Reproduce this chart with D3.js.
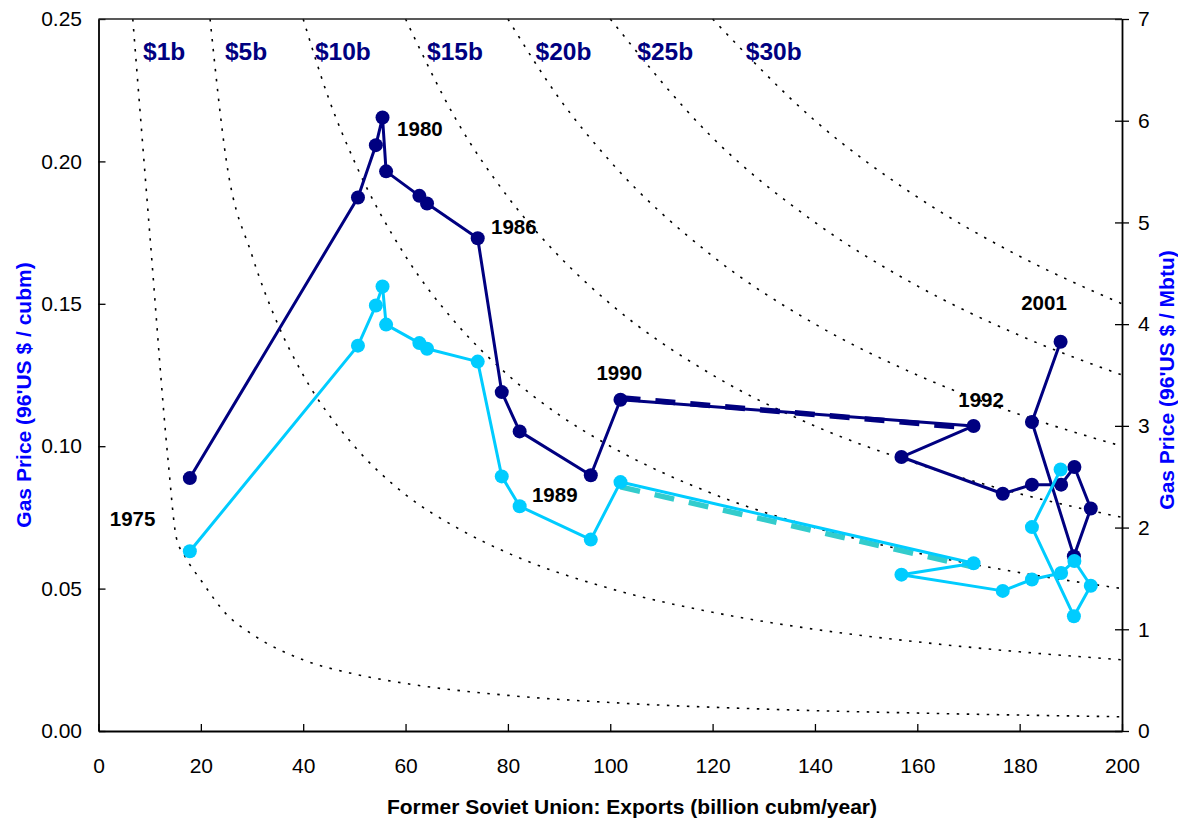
<!DOCTYPE html>
<html>
<head>
<meta charset="utf-8">
<script src="https://cdn.jsdelivr.net/npm/d3@7"></script>
<style>
  body { margin: 0; background: #fff; }
  text { font-family: "Liberation Sans", Arial, sans-serif; }
</style>
</head>
<body>
<svg id="chart" width="1178" height="821"></svg>
<script>
// ---------------- DATA ----------------
// Former Soviet Union exports (billion cubm / year), shared by both price series
const exportsBcm = [17.85, 50.7, 54.2, 55.5, 56.2, 62.7, 64.2, 74.1, 78.8, 82.3, 96.2, 102.0,
                    171.0, 156.9, 176.7, 182.4, 188.1, 190.7, 193.9, 190.6, 182.4, 188.0];
// Navy series gas price (96'US $ / cubm)
const priceNavy = [0.0888, 0.1873, 0.2057, 0.2154, 0.1965, 0.1879, 0.1852, 0.1730, 0.1190, 0.1052, 0.0898, 0.1163,
                   0.1071, 0.0962, 0.0833, 0.0865, 0.0865, 0.0927, 0.0781, 0.0614, 0.1085, 0.1367];
// Cyan series gas price (96'US $ / cubm)
const priceCyan = [0.0631, 0.1353, 0.1494, 0.1561, 0.1427, 0.1362, 0.1342, 0.1297, 0.0894, 0.0789, 0.0672, 0.0874,
                   0.0589, 0.0549, 0.0492, 0.0532, 0.0555, 0.0597, 0.0510, 0.0403, 0.0716, 0.0918];

// Dashed 1990-1992 trend segments
const trendNavyX = [102.0, 169.0];
const trendNavyY = [0.1170, 0.1066];
const trendCyanX = [102.0, 171.0];
const trendCyanY = [0.0857, 0.0576];

// Iso-revenue curves (export x, price y)
const revenueNames = ["$1b", "$5b", "$10b", "$15b", "$20b", "$25b", "$30b"];
const curve1b  = [[6.7,0.25],[10,0.175],[13.6,0.095],[15.2,0.068],[17,0.061],[20,0.053],[25,0.041],[30,0.034],
                  [40,0.025],[50,0.02],[60,0.0167],[80,0.0125],[100,0.01],[130,0.0077],[160,0.0063],[200,0.005]];
const curve5b  = [[21.8,0.25],[25,0.2],[30,0.167],[35,0.143],[40,0.125],[50,0.1],[60,0.083],[70,0.0714],
                  [80,0.0625],[100,0.05],[120,0.0417],[140,0.0357],[160,0.0313],[180,0.0278],[200,0.025]];
const curve10b = [[40,0.25],[45,0.222],[50,0.2],[60,0.1667],[70,0.1429],[80,0.125],[90,0.111],[100,0.1],
                  [120,0.0833],[140,0.0714],[160,0.0625],[180,0.0556],[200,0.05]];
const curve15b = [[60,0.25],[70,0.2143],[80,0.1875],[90,0.1667],[100,0.15],[120,0.125],[140,0.1071],
                  [160,0.0938],[180,0.0833],[200,0.075]];
const curve20b = [[80,0.25],[90,0.2222],[100,0.2],[120,0.1667],[140,0.1429],[160,0.125],[180,0.1111],[200,0.1]];
const curve25b = [[100,0.25],[120,0.2083],[140,0.1786],[160,0.1563],[180,0.1389],[200,0.125]];
const curve30b = [[120,0.25],[140,0.2143],[160,0.1875],[180,0.1667],[200,0.15]];
const revenueCurves = [curve1b, curve5b, curve10b, curve15b, curve20b, curve25b, curve30b];
// label anchors (data units)
const revenueLabelX = [8.7, 24.7, 42.3, 64.2, 85.4, 105.3, 126.5];
const revenueLabelY = 0.2355;

// Year annotations (data-unit anchors)
const yearLabels = ["1975", "1980", "1986", "1989", "1990", "1992", "2001"];
const yearLabelX = [2.2, 58.35, 76.7, 84.7, 97.3, 168.0, 180.3];
const yearLabelY = [0.0719, 0.2090, 0.1746, 0.0804, 0.1233, 0.1137, 0.1479];

// Ticks
const exportTicks = [0, 20, 40, 60, 80, 100, 120, 140, 160, 180, 200];
const priceTicks = [0, 0.05, 0.10, 0.15, 0.20, 0.25];
const mbtuTicks = [0, 1, 2, 3, 4, 5, 6, 7];

// ---------------- CHART ----------------
(function () {
const svg = d3.select("#chart");
const FONT = "'Liberation Sans', Arial, sans-serif";
const pLeft = 98.5, pRight = 1122, pTop = 19, pBottom = 731;

const x = d3.scaleLinear().domain([0, 200]).range([pLeft, pRight]);
const y = d3.scaleLinear().domain([0, 0.25]).range([pBottom, pTop]);
const yR = d3.scaleLinear().domain([0, 7]).range([pBottom, pTop]);

const navy = "#000080", cyan = "#00CCFF", teal = "#33CCCC";

svg.append("defs").append("clipPath").attr("id", "plotClip")
  .append("rect").attr("x", pLeft).attr("y", pTop - 8).attr("width", pRight - pLeft + 5).attr("height", pBottom - pTop + 8);

// iso-revenue dotted curves
const curveLine = d3.line().x(d => x(d[0])).y(d => y(d[1])).curve(d3.curveMonotoneX);
const gCurves = svg.append("g").attr("clip-path", "url(#plotClip)");
revenueCurves.forEach(c => {
  gCurves.append("path").attr("d", curveLine(c))
    .attr("fill", "none").attr("stroke", "#000").attr("stroke-width", 1.6)
    .attr("stroke-dasharray", "2.5,7.5");
});

// revenue labels
revenueNames.forEach((t, i) => {
  svg.append("text").attr("x", x(revenueLabelX[i])).attr("y", y(revenueLabelY))
    .attr("font-size", 24.5).attr("font-weight", "bold").attr("fill", navy).text(t);
});

// axes
const gL = svg.append("g").attr("transform", `translate(${pLeft},0)`)
  .call(d3.axisLeft(y).tickValues(priceTicks).tickFormat(d3.format(".2f"))
    .tickSizeInner(-7).tickSizeOuter(0).tickPadding(16.5));
const gB = svg.append("g").attr("transform", `translate(0,${pBottom})`)
  .call(d3.axisBottom(x).tickValues(exportTicks).tickFormat(d3.format("d"))
    .tickSizeInner(-7).tickSizeOuter(0).tickPadding(27));
const gR = svg.append("g").attr("transform", `translate(${pRight},0)`)
  .call(d3.axisRight(yR).tickValues(mbtuTicks).tickFormat(d3.format("d"))
    .tickSizeInner(7).tickSizeOuter(0).tickPadding(9));
gR.selectAll(".tick line").attr("x1", -7);
[gL, gB, gR].forEach(g => {
  g.attr("font-family", FONT).attr("font-size", 21);
  g.selectAll("text").attr("fill", "#000");
  g.selectAll("line").attr("stroke", "#000").attr("stroke-width", 1.3);
  g.select(".domain").attr("stroke", "#000").attr("stroke-width", 1.8);
});
// top frame line
svg.append("line").attr("x1", pLeft).attr("x2", pRight).attr("y1", pTop).attr("y2", pTop)
  .attr("stroke", "#222").attr("stroke-width", 1.5);

// dashed trend segments
const lineXY = d3.line().x(d => x(d[0])).y(d => y(d[1]));
svg.append("path").attr("d", lineXY(d3.zip(trendNavyX, trendNavyY)))
  .attr("fill", "none").attr("stroke", navy).attr("stroke-width", 5.5).attr("stroke-dasharray", "20,15");
svg.append("path").attr("d", lineXY(d3.zip(trendCyanX, trendCyanY)))
  .attr("fill", "none").attr("stroke", teal).attr("stroke-width", 5.5).attr("stroke-dasharray", "20,15");

// series
function drawSeries(values, color) {
  const pts = d3.zip(exportsBcm, values);
  svg.append("path").attr("d", lineXY(pts)).attr("fill", "none")
    .attr("stroke", color).attr("stroke-width", 3).attr("stroke-linejoin", "round");
  svg.append("g").selectAll("circle").data(pts).join("circle")
    .attr("cx", d => x(d[0])).attr("cy", d => y(d[1])).attr("r", 7).attr("fill", color);
}
drawSeries(priceNavy, navy);
drawSeries(priceCyan, cyan);

// year labels
yearLabels.forEach((t, i) => {
  svg.append("text").attr("x", x(yearLabelX[i])).attr("y", y(yearLabelY[i]))
    .attr("font-size", 20.5).attr("font-weight", "bold").attr("fill", "#000").text(t);
});

// axis titles
svg.append("text").attr("x", 632).attr("y", 814).attr("text-anchor", "middle")
  .attr("font-size", 21).attr("font-weight", "bold").attr("fill", "#000")
  .text("Former Soviet Union: Exports (billion cubm/year)");
svg.append("text").attr("transform", "translate(31,395) rotate(-90)").attr("text-anchor", "middle")
  .attr("font-size", 21).attr("font-weight", "bold").attr("fill", "#0000FF")
  .text("Gas Price (96'US $ / cubm)");
svg.append("text").attr("transform", "translate(1174,380) rotate(-90)").attr("text-anchor", "middle")
  .attr("font-size", 21).attr("font-weight", "bold").attr("fill", "#0000FF")
  .text("Gas Price (96'US $ / Mbtu)");
})();
</script>
</body>
</html>
